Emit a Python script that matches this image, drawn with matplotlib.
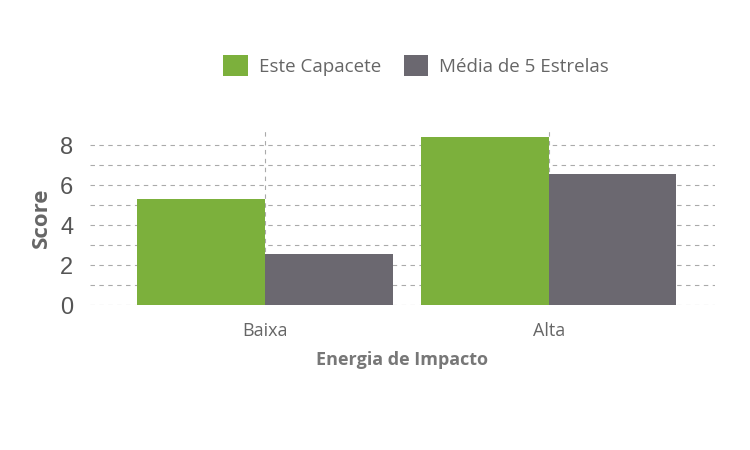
import matplotlib
matplotlib.use("Agg")
import matplotlib.pyplot as plt
import numpy as np

categories = ["Baixa", "Alta"]
este_capacete = [5.3, 8.4]
media_5_estrelas = [2.55, 6.55]
series_names = ["Este Capacete", "Média de 5 Estrelas"]
colors = ["#7cb03c", "#6b6870"]

plt.rcParams['font.family'] = ['Open Sans', 'DejaVu Sans']
fig = plt.figure(figsize=(7.5, 4.5), dpi=100)
ax = fig.add_axes([0.12, 0.322, 0.833, 0.389])

x = np.arange(len(categories))
w = 0.45
ax.bar(x - w / 2, este_capacete, w, color=colors[0], label=series_names[0], zorder=2)
ax.bar(x + w / 2, media_5_estrelas, w, color=colors[1], label=series_names[1], zorder=2)

ax.set_xlim(-0.616, 1.585)
ax.set_ylim(0, 8.75)
ax.set_yticks([0, 2, 4, 6, 8])
ax.set_yticks([1, 3, 5, 7], minor=True)
ax.set_xticks(x)
ax.set_xticklabels(categories, fontsize=13, color="#666666")
for lbl in ax.get_yticklabels():
    lbl.set_fontfamily("Liberation Sans")
    lbl.set_fontsize(17)
    lbl.set_color("#555555")
ax.grid(True, which="both", axis="y", color="#aaaaaa", linestyle=(0, (4, 4)), linewidth=0.8, zorder=0)
ax.grid(True, which="major", axis="x", color="#aaaaaa", linestyle=(0, (4, 4)), linewidth=0.8, zorder=3)
ax.tick_params(length=0, pad=12)
ax.tick_params(axis="y", which="minor", length=0)
for s in ax.spines.values():
    s.set_visible(False)

ax.set_ylabel("Score", fontsize=16, fontweight="bold", color="#666666", labelpad=6)
ax.set_xlabel("Energia de Impacto", fontsize=13, fontweight="bold", color="#777777", labelpad=8)

fig.legend(loc="upper center", bbox_to_anchor=(0.555, 0.915), ncol=2, frameon=False,
           fontsize=13.5, labelcolor="#666666", handlelength=1.3, handleheight=1.3,
           columnspacing=1.2, handletextpad=0.6)

fig.savefig("out.png")
